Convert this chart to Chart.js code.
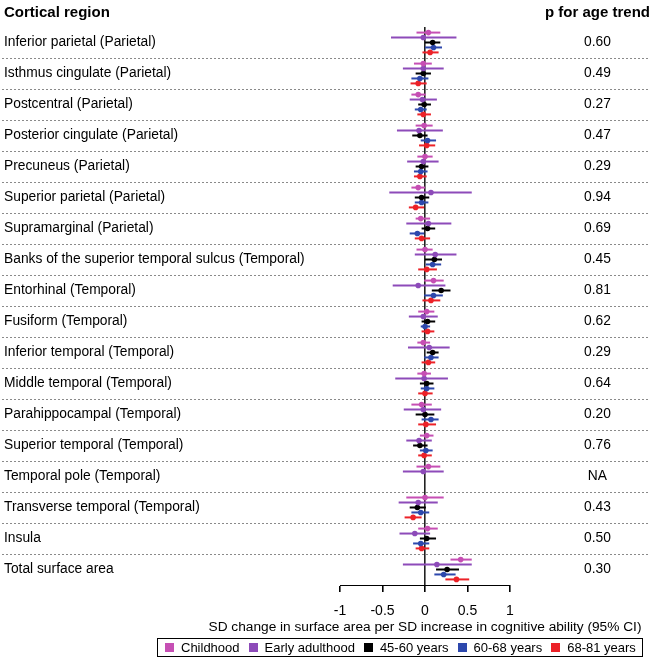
<!DOCTYPE html>
<html>
<head>
<meta charset="utf-8">
<script src="https://cdn.jsdelivr.net/npm/chart.js@4.4.1/dist/chart.umd.min.js"></script>
<style>
body{margin:0;background:#fff;font-family:"Liberation Sans",Arial,sans-serif;color:#000}
#wrap{position:relative;width:652px;height:662px}
#chart{position:absolute;left:0;top:0}
.head{position:absolute;top:3px;font-weight:bold;font-size:15px}
#xtitle{position:absolute;left:0;width:850px;margin-left:0;top:619px;font-size:13.7px;text-align:center;white-space:nowrap}
#legend{position:absolute;left:157px;top:638px;width:486px;height:19px;border:1px solid #000;display:flex;align-items:center;font-size:13px;padding-left:7px;box-sizing:border-box;white-space:nowrap}
#legend span{flex-shrink:0}
#legend span.sw{display:inline-block;width:9px;height:9px;margin-right:7px}
#legend span.tx{margin-right:9px}
</style>
</head>
<body>
<div id="wrap">
<canvas id="chart" width="652" height="640"></canvas>
<div class="head" style="left:4px">Cortical region</div>
<div class="head" style="left:545px">p for age trend</div>
<div id="xtitle">SD change in surface area per SD increase in cognitive ability (95% CI)</div>
<div id="legend"></div>
</div>
<script>
// rows, top to bottom
const regions=["Inferior parietal (Parietal)","Isthmus cingulate (Parietal)","Postcentral (Parietal)","Posterior cingulate (Parietal)","Precuneus (Parietal)","Superior parietal (Parietal)","Supramarginal (Parietal)","Banks of the superior temporal sulcus (Temporal)","Entorhinal (Temporal)","Fusiform (Temporal)","Inferior temporal (Temporal)","Middle temporal (Temporal)","Parahippocampal (Temporal)","Superior temporal (Temporal)","Temporal pole (Temporal)","Transverse temporal (Temporal)","Insula","Total surface area"]
const pTrend=["0.60","0.49","0.27","0.47","0.29","0.94","0.69","0.45","0.81","0.62","0.29","0.64","0.20","0.76","NA","0.43","0.50","0.30"]

const seriesNames=["Childhood","Early adulthood","45-60 years","60-68 years","68-81 years"]
const seriesColors=["#c64fb4","#8d4bb9","#000000","#2d48ad","#ec2228"]

// estimates and 95% CI per series
const childEst=[0.04,-0.02,-0.08,-0.01,0.00,-0.08,-0.05,0.00,0.10,0.02,-0.02,-0.01,-0.04,0.02,0.04,0.00,0.03,0.42]
const childLo=[-0.10,-0.13,-0.16,-0.11,-0.09,-0.16,-0.11,-0.10,-0.01,-0.08,-0.09,-0.09,-0.16,-0.06,-0.10,-0.22,-0.08,0.30]
const childHi=[0.18,0.08,0.01,0.09,0.09,0.00,0.06,0.09,0.22,0.11,0.06,0.07,0.08,0.10,0.18,0.22,0.15,0.55]

const earlyEst=[-0.02,-0.02,-0.03,-0.07,-0.02,0.07,0.04,0.12,-0.08,-0.02,0.05,-0.01,-0.02,-0.07,-0.02,-0.08,-0.12,0.14]
const earlyLo=[-0.40,-0.26,-0.18,-0.33,-0.21,-0.42,-0.22,-0.12,-0.38,-0.19,-0.20,-0.35,-0.25,-0.22,-0.26,-0.31,-0.30,-0.26]
const earlyHi=[0.37,0.22,0.14,0.21,0.16,0.55,0.31,0.37,0.24,0.15,0.29,0.27,0.19,0.08,0.22,0.15,0.06,0.55]

const midEst=[0.09,-0.02,-0.01,-0.06,-0.04,-0.04,0.03,0.11,0.19,0.03,0.09,0.02,0.00,-0.06,null,-0.09,0.02,0.26]
const midLo=[0.00,-0.11,-0.08,-0.15,-0.11,-0.12,-0.04,0.00,0.08,-0.04,0.02,-0.06,-0.11,-0.14,null,-0.18,-0.06,0.13]
const midHi=[0.18,0.07,0.07,0.03,0.04,0.05,0.12,0.20,0.30,0.12,0.16,0.10,0.11,0.03,null,0.01,0.13,0.40]

const lateEst=[0.10,-0.06,-0.05,0.03,-0.05,-0.04,-0.09,0.09,0.10,0.00,0.07,0.02,0.07,0.01,null,-0.05,-0.05,0.22]
const lateLo=[0.00,-0.16,-0.12,-0.05,-0.13,-0.12,-0.18,0.01,-0.01,-0.05,-0.01,-0.05,-0.04,-0.06,null,-0.16,-0.14,0.11]
const lateHi=[0.20,0.04,0.02,0.13,0.03,0.04,-0.01,0.19,0.21,0.06,0.16,0.11,0.16,0.09,null,0.05,0.05,0.36]

const oldEst=[0.06,-0.08,-0.02,0.02,-0.06,-0.11,-0.04,0.02,0.07,0.03,0.04,0.00,0.01,-0.01,null,-0.14,-0.04,0.37]
const oldLo=[-0.03,-0.17,-0.09,-0.07,-0.13,-0.19,-0.12,-0.08,-0.03,-0.04,-0.04,-0.08,-0.08,-0.08,null,-0.24,-0.11,0.24]
const oldHi=[0.16,0.02,0.07,0.12,0.02,-0.01,0.06,0.14,0.18,0.11,0.12,0.09,0.13,0.08,null,-0.04,0.05,0.52]

const est=[childEst,earlyEst,midEst,lateEst,oldEst]
const lo=[childLo,earlyLo,midLo,lateLo,oldLo]
const hi=[childHi,earlyHi,midHi,lateHi,oldHi]

const FONT="'Liberation Sans', Arial, sans-serif"
Chart.defaults.font.family=FONT
Chart.defaults.color="#000"

// vertical step between the five series inside one row (in row units)
const step=0.16

let datasets=[]
seriesNames.forEach((name,k)=>{
  let off=(k-2)*step
  let pts=[]
  regions.forEach((r,i)=>{
    if(est[k][i]===null) return
    // one short line per confidence interval
    datasets.push({
      label:name+" CI",
      data:[{x:lo[k][i],y:i+off},{x:hi[k][i],y:i+off}],
      showLine:true,
      borderColor:seriesColors[k],
      borderWidth:2,
      pointRadius:0
    })
    pts.push({x:est[k][i],y:i+off})
  })
  datasets.push({
    label:name,
    data:pts,
    showLine:false,
    pointStyle:"circle",
    pointRadius:2.8,
    pointBackgroundColor:seriesColors[k],
    pointBorderWidth:0
  })
})

// dashed row separators across the full width
const separators={
  id:"separators",
  beforeDraw(chart){
    const ctx=chart.ctx
    const y=chart.scales.y
    ctx.save()
    ctx.strokeStyle="#8a8a8a"
    ctx.lineWidth=1
    ctx.setLineDash([2,2])
    for(let i=0;i<regions.length-1;i++){
      let py=Math.round(y.getPixelForValue(i+0.5))+0.5
      ctx.beginPath()
      ctx.moveTo(2,py)
      ctx.lineTo(650,py)
      ctx.stroke()
    }
    ctx.restore()
  }
}

const rowTicks=scale=>{scale.ticks=regions.map((r,i)=>({value:i}))}

const chart=new Chart(document.getElementById("chart"),{
  type:"scatter",
  data:{datasets:datasets},
  plugins:[separators],
  options:{
    responsive:false,
    animation:false,
    layout:{padding:{left:4,top:27,right:0,bottom:0}},
    plugins:{legend:{display:false},tooltip:{enabled:false}},
    scales:{
      x:{
        min:-1,max:1,
        ticks:{stepSize:0.5,font:{size:14},padding:11,color:"#000",callback:v=>String(v)},
        grid:{
          drawOnChartArea:true,
          color:c=>c.tick&&c.tick.value===0?"#222":"rgba(0,0,0,0)",
          lineWidth:1.6,
          tickColor:"#000",
          tickLength:7
        },
        border:{display:true,color:"#000",width:1},
        afterFit(s){s.height=55}
      },
      y:{
        type:"linear",
        position:"left",
        reverse:true,
        min:-0.5,max:regions.length-0.5,
        afterBuildTicks:rowTicks,
        ticks:{callback:v=>regions[v],crossAlign:"far",font:{size:13.8},color:"#000",autoSkip:false},
        grid:{display:false},
        border:{display:false},
        afterFit(s){s.width=336}
      },
      y2:{
        type:"linear",
        position:"right",
        display:true,
        reverse:true,
        min:-0.5,max:regions.length-0.5,
        afterBuildTicks:rowTicks,
        ticks:{callback:v=>pTrend[v],crossAlign:"center",font:{size:13.8},color:"#000",padding:2,autoSkip:false},
        grid:{display:false,drawTicks:true,tickLength:72},
        border:{display:false},
        afterFit(s){s.width=142}
      }
    }
  }
})

// centre the axis title under the x axis
let xs=chart.scales.x
let xt=document.getElementById("xtitle")
xt.style.left=((xs.left+xs.right)/2-425)+"px"

// legend
let lg=document.getElementById("legend")
seriesNames.forEach((name,k)=>{
  let sw=document.createElement("span")
  sw.className="sw"
  sw.style.background=seriesColors[k]
  let tx=document.createElement("span")
  tx.className="tx"
  tx.textContent=name
  lg.appendChild(sw)
  lg.appendChild(tx)
})
</script>
</body>
</html>
